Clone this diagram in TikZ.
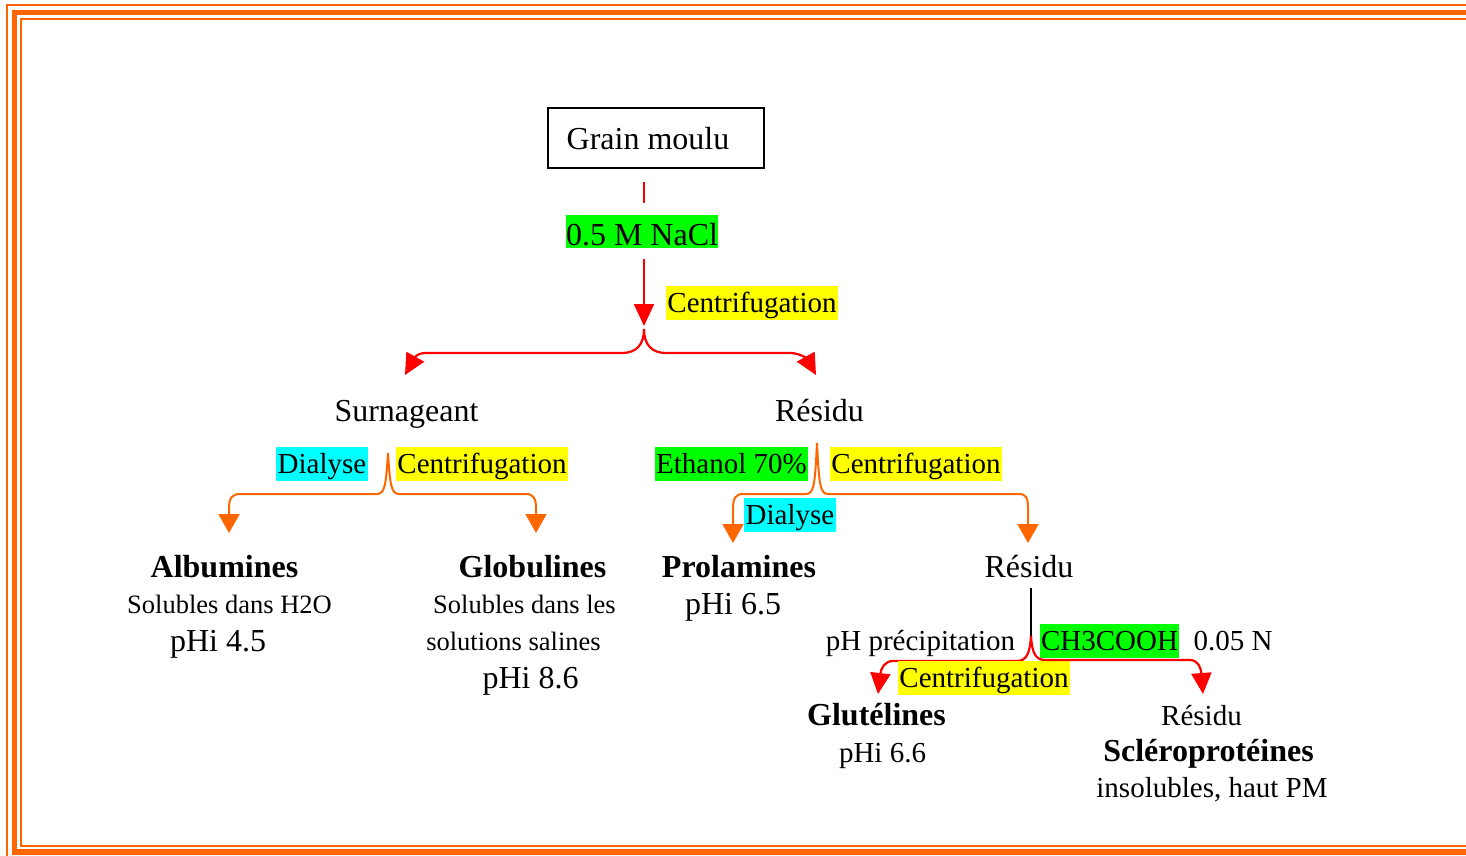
\documentclass[tikz,border=0pt]{standalone}
\usepackage{fontspec}
\setmainfont{Liberation Serif}
\usetikzlibrary{arrows.meta,calc}
\definecolor{frameorange}{HTML}{FF6600}
\definecolor{hlyellow}{HTML}{FFFF00}
\definecolor{hlgreen}{HTML}{00FF00}
\definecolor{hlcyan}{HTML}{00FFFF}
\definecolor{flowred}{HTML}{FF0000}
\pgfdeclarelayer{back}
\pgfsetlayers{back,main}
\newcommand{\fsL}{\fontsize{16}{19}\selectfont}
\newcommand{\fsM}{\fontsize{14.5}{17}\selectfont}
\newcommand{\fsS}{\fontsize{13.25}{16}\selectfont}
\tikzset{
  txtL/.style={inner sep=0pt, anchor=base, font=\fsL},
  txtB/.style={inner sep=0pt, anchor=base, font=\fsL\bfseries},
  txtM/.style={inner sep=0pt, anchor=base, font=\fsM},
  txtS/.style={inner sep=0pt, anchor=base, font=\fsS},
  hlbox/.style={anchor=base, inner xsep=0.75pt, inner ysep=0pt,
    text height=13pt, text depth=4pt, font=\fsM},
  redline/.style={draw=flowred, line width=1.1pt},
  redflow/.style={redline, -{Triangle[width=10pt,length=10.5pt]}},
  orangeflow/.style={draw=frameorange, line width=1pt,
    -{Triangle[width=10.5pt,length=9.5pt]}},
}
\begin{document}
\begin{tikzpicture}[x=0.5pt,y=-0.5pt]
\useasboundingbox (0,0) rectangle (1466,856);

% triple page frame
\begin{scope}
  \clip (0,0) rectangle (1466,856);
  \draw[frameorange, line width=0.9pt] (7,5) rectangle (1500,859);
  \draw[frameorange, line width=2.7pt] (14.5,12.5) rectangle (1493,852);
  \draw[frameorange, line width=1pt] (21,19) rectangle (1486,846);
\end{scope}

% starting material
\node[draw, line width=1pt, minimum width=108pt, minimum height=30pt,
      inner sep=0pt] (grainbox) at (656,138) {};
\node[txtL] (grain) at (648,149) {Grain moulu};

% first extraction
\node[hlbox, fill=hlgreen, font=\fsL, inner xsep=0pt,
      text height=15pt, text depth=1.5pt] (nacl) at (642,245) {0.5 M NaCl};
\node[hlbox, fill=hlyellow] (centA) at (752,312) {Centrifugation};
\node[txtL] (surn) at (406.5,421) {Surnageant};
\node[txtL] (resA) at (819.5,421) {Résidu};

% supernatant branch
\node[hlbox, fill=hlcyan] (dialA) at (322,473) {Dialyse};
\node[hlbox, fill=hlyellow] (centB) at (482,473) {Centrifugation};
\node[txtB] (albu) at (224.5,577) {Albumines};
\node[txtS] (sol1) at (229.5,613) {Solubles dans H2O};
\node[txtL] (phi45) at (218,651) {pHi 4.5};
\node[txtB] (glob) at (532.5,577) {Globulines};
\node[txtS] (sol2) at (524.5,613) {Solubles dans les};
\node[txtS] (sol3) at (513.5,650) {solutions salines};
\node[txtL] (phi86) at (530.5,688) {pHi 8.6};

% residue branch
\node[hlbox, fill=hlgreen] (ethA) at (731.5,473) {Ethanol 70\%};
\node[hlbox, fill=hlyellow] (centC) at (916,473) {Centrifugation};
\node[hlbox, fill=hlcyan] (dialB) at (790,524) {Dialyse};
\node[txtB] (prol) at (739,577) {Prolamines};
\node[txtL] (phi65) at (733,614) {pHi 6.5};
\node[txtL] (resB) at (1029,577) {Résidu};

% acid extraction
\node[txtM] (phprec) at (920.5,650) {pH précipitation};
\node[hlbox, fill=hlgreen] (ch3) at (1109.5,650) {CH3COOH};
\node[txtM] (n005) at (1233,650) {0.05 N};
\node[hlbox, fill=hlyellow] (centD) at (984,687) {Centrifugation};
\node[txtB] (glut) at (876.5,725) {Glutélines};
\node[txtM] (phi66) at (882.5,762) {pHi 6.6};
\node[txtM] (resC) at (1201.5,725) {Résidu};
\node[txtB] (sclero) at (1208.5,761) {Scléroprotéines};
\node[txtM] (insol) at (1212,797) {insolubles, haut PM};

% branching points and arrow ends
\coordinate (apex1) at (644,329);
\coordinate (apex2) at (388,453);
\coordinate (apex3) at (817,443);
\coordinate (apex4) at (1031,636);
\coordinate (tipSurn) at (405,375);
\coordinate (tipResA) at (816,375);
\coordinate (tipAlbu) at (229,533);
\coordinate (tipGlob) at (536,533);
\coordinate (tipProl) at (733,543);
\coordinate (tipResB) at (1028,543);
\coordinate (tipGlut) at (878,694);
\coordinate (tipResC) at (1203,694);

\begin{pgfonlayer}{back}
  % grain -> NaCl -> split
  \draw[redline, shorten <=6.5pt, shorten >=6pt]
    (grainbox.south -| apex1) -- (nacl.north -| apex1);
  \draw[redflow, -{Triangle[width=10pt,length=11pt]}, shorten <=5.5pt, shorten >=1.5pt]
    (nacl.south -| apex1) -- (apex1);
  \draw[redflow] (apex1) .. controls (644,345) and (636,353) .. (622,353)
    -- (426,353) .. controls (416,353) and (414,359) .. (tipSurn);
  \draw[redflow] (apex1) .. controls (644,345) and (652,353) .. (666,353)
    -- (790,353) .. controls (800,353) and (807,359) .. (tipResA);

  % supernatant split
  \draw[orangeflow] (apex2) .. controls (386,484) and (385,494) .. (377,494)
    -- (240,494) .. controls (232,494) and (229,498) .. (229,508) -- (tipAlbu);
  \draw[orangeflow] (apex2) .. controls (390,484) and (391,494) .. (399,494)
    -- (526,494) .. controls (533,494) and (536,498) .. (536,508) -- (tipGlob);

  % residue split
  \draw[orangeflow] (apex3) .. controls (815,484) and (814,494) .. (806,494)
    -- (743,494) .. controls (736,494) and (733,498) .. (733,508) -- (tipProl);
  \draw[orangeflow] (apex3) .. controls (819,484) and (820,494) .. (828,494)
    -- (1019,494) .. controls (1026,494) and (1028,498) .. (1028,508) -- (tipResB);

  % acid extraction split (left branch)
  \draw[line width=0.8pt, shorten <=5pt] (resB.south -| apex4) -- (apex4);
  \draw[redflow] (apex4) .. controls (1030,652) and (1027,661) .. (1017,661)
    -- (893,661) .. controls (885,661) and (881,668) .. (tipGlut);
\end{pgfonlayer}

% acid extraction split (right branch)
\draw[redflow] (apex4) .. controls (1032,652) and (1035,660) .. (1045,660)
  -- (1190,660) .. controls (1198,660) and (1201,668) .. (tipResC);
\end{tikzpicture}
\end{document}
